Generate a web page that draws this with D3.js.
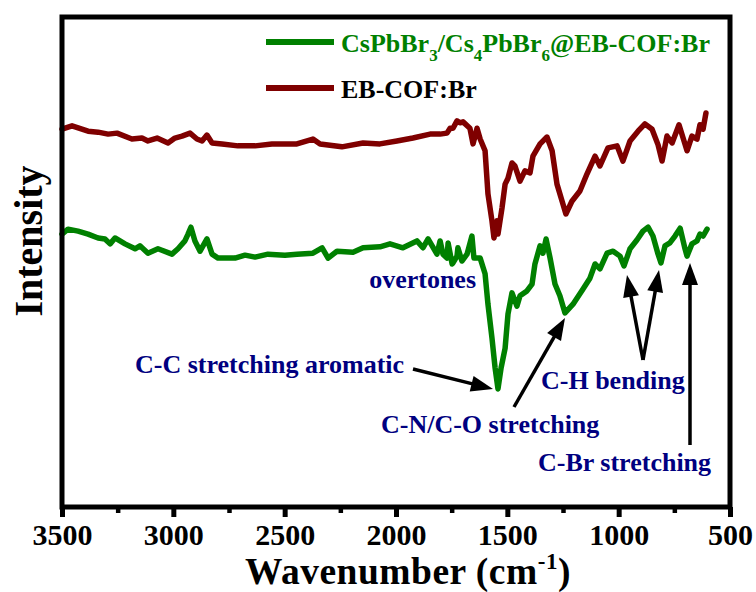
<!DOCTYPE html>
<html>
<head>
<meta charset="utf-8">
<script src="https://cdn.jsdelivr.net/npm/d3@7"></script>
<style>
  body { margin: 0; background: #fff; }
  svg text { font-family: "Liberation Serif", "Times New Roman", serif; font-weight: bold; }
</style>
</head>
<body>
<div id="chart"></div>
<script>
// FTIR spectra, wavenumber axis reversed (3500 -> 500 cm-1)
const W = 756, H = 592;
const BOX = { left: 62, top: 17, right: 730, bottom: 507 };

const GREEN = '#008000';
const MAROON = '#7f0000';
const NAVY = '#000080';

const X_TICKS = [3500, 3000, 2500, 2000, 1500, 1000, 500];
const X_MINOR = [3250, 2750, 2250, 1750, 1250, 750];

// EB-COF:Br (upper trace), [wavenumber, intensity a.u.]
const COF_WN = [3500, 3455, 3383, 3338, 3293, 3253, 3186, 3141, 3114, 3073, 3024, 2993, 2961, 2925,
  2894, 2871, 2849, 2826, 2781, 2710, 2633, 2557, 2499, 2445, 2373, 2341, 2243, 2148, 2072, 1996,
  1924, 1847, 1802, 1771, 1757, 1744, 1726, 1713, 1699, 1668, 1654, 1636, 1622, 1600, 1587, 1569,
  1560, 1546, 1542, 1524, 1510, 1497, 1479, 1466, 1443, 1421, 1398, 1385, 1353, 1322, 1299, 1277,
  1254, 1237, 1210, 1174, 1142, 1106, 1084, 1048, 1007, 981, 949, 913, 882, 850, 823, 805, 783,
  760, 729, 693, 671, 648, 635, 621, 608];
const COF_I = [77.1, 77.8, 76.7, 76.5, 76.1, 76.3, 75.1, 75.3, 74.7, 75.3, 74.3, 75.3, 75.7, 76.3,
  75.1, 74.7, 75.9, 74.3, 74.1, 73.7, 73.7, 74.1, 74.1, 74.1, 75.1, 74.1, 73.5, 74.3, 74.1, 74.7,
  75.3, 76.1, 76.1, 76.3, 77.3, 77.3, 78.8, 78.4, 78.6, 77.3, 74.1, 77.3, 75.1, 72.7, 63.9, 58.4,
  54.9, 58.4, 55.7, 61.0, 65.9, 67.1, 70.2, 69.6, 66.5, 68.6, 68.2, 71.6, 74.1, 75.5, 72.7, 65.9,
  62.4, 59.8, 62.4, 64.5, 68.0, 71.6, 69.6, 73.3, 73.7, 70.6, 74.7, 76.7, 78.2, 77.1, 73.9, 70.6,
  75.7, 74.3, 78.0, 72.7, 75.7, 75.1, 78.0, 77.1, 80.4];

// CsPbBr3/Cs4PbBr6@EB-COF:Br (lower trace)
const CS_WN = [3500, 3473, 3428, 3383, 3338, 3307, 3284, 3262, 3217, 3172, 3150, 3114, 3069, 3006,
  2979, 2948, 2934, 2921, 2903, 2880, 2849, 2826, 2799, 2723, 2678, 2633, 2575, 2499, 2445, 2373,
  2332, 2305, 2265, 2193, 2148, 2072, 2027, 1969, 1906, 1879, 1856, 1816, 1802, 1789, 1771, 1766,
  1748, 1744, 1726, 1722, 1704, 1681, 1659, 1650, 1622, 1600, 1587, 1569, 1555, 1542, 1528, 1510,
  1497, 1479, 1457, 1443, 1412, 1389, 1376, 1353, 1340, 1326, 1308, 1286, 1264, 1241, 1205, 1160,
  1129, 1106, 1084, 1052, 1025, 994, 976, 949, 918, 891, 868, 846, 823, 810, 792, 770, 747, 724,
  702, 693, 671, 648, 635, 621, 603];
const CS_I = [55.7, 56.7, 56.3, 55.7, 54.9, 54.7, 53.7, 54.9, 53.7, 52.7, 53.3, 51.8, 52.7, 51.6,
  52.7, 54.3, 55.7, 57.1, 54.3, 52.2, 54.7, 51.6, 50.8, 50.8, 51.4, 51.0, 51.6, 51.4, 51.6, 51.8,
  52.9, 50.8, 52.2, 52.0, 52.9, 53.1, 53.7, 52.9, 54.3, 52.9, 54.7, 51.6, 54.3, 51.6, 50.8, 53.9,
  49.6, 49.8, 51.2, 52.9, 50.2, 51.6, 55.3, 50.8, 50.8, 47.6, 41.4, 34.5, 28.4, 24.1, 28.4, 32.4,
  39.4, 43.7, 41.0, 43.1, 44.1, 45.5, 49.6, 53.3, 51.8, 54.7, 50.8, 45.5, 43.1, 39.6, 41.4, 44.5,
  46.7, 49.6, 48.6, 51.8, 52.2, 51.2, 49.2, 52.7, 54.5, 56.3, 57.1, 55.3, 51.6, 49.8, 53.3, 53.9,
  55.3, 56.9, 52.7, 51.2, 53.7, 54.3, 55.7, 55.3, 56.7];

const svg = d3.select('#chart').append('svg')
  .attr('width', W).attr('height', H);

const x = d3.scaleLinear().domain([3500, 500]).range([BOX.left, BOX.right]);
const y = d3.scaleLinear().domain([0, 100]).range([BOX.bottom, BOX.top]);

// axis ticks (outward, below frame)
const ax = svg.append('g').attr('transform', `translate(0,${BOX.bottom})`);
ax.call(d3.axisBottom(x).tickValues(X_MINOR).tickSize(6).tickFormat(''));
ax.call(g => g.selectAll('.tick line').attr('stroke-width', 4.5));
const axMajor = svg.append('g').attr('transform', `translate(0,${BOX.bottom})`)
  .call(d3.axisBottom(x).tickValues(X_TICKS).tickSize(10).tickPadding(8).tickFormat(d3.format('d')));
axMajor.selectAll('.tick line').attr('stroke-width', 5);
axMajor.selectAll('.tick text')
  .attr('font-size', 30).attr('fill', '#000').attr('dy', '0.66em');
svg.selectAll('.domain').remove();

// spectra
const line = d3.line().x(d => x(d[0])).y(d => y(d[1]));
const series = [
  { wn: COF_WN, val: COF_I, color: MAROON },
  { wn: CS_WN, val: CS_I, color: GREEN },
];
series.forEach(s => {
  svg.append('path')
    .datum(s.wn.map((w, i) => [w, s.val[i]]))
    .attr('d', line)
    .attr('fill', 'none')
    .attr('stroke', s.color)
    .attr('stroke-width', 5.5)
    .attr('stroke-linejoin', 'round')
    .attr('stroke-linecap', 'round');
});

// frame
svg.append('rect')
  .attr('x', BOX.left).attr('y', BOX.top)
  .attr('width', BOX.right - BOX.left).attr('height', BOX.bottom - BOX.top)
  .attr('fill', 'none').attr('stroke', '#000').attr('stroke-width', 5);

// legend
const legend = svg.append('g');
legend.append('line').attr('x1', 266).attr('x2', 334).attr('y1', 42).attr('y2', 42)
  .attr('stroke', GREEN).attr('stroke-width', 6);
legend.append('line').attr('x1', 266).attr('x2', 334).attr('y1', 88).attr('y2', 88)
  .attr('stroke', MAROON).attr('stroke-width', 6);

const lt = legend.append('text').attr('x', 341).attr('y', 52).attr('font-size', 26).attr('fill', GREEN);
[['CsPbBr', 0], ['3', 1], ['/Cs', 0], ['4', 1], ['PbBr', 0], ['6', 1], ['@EB-COF:Br', 0]]
  .forEach(([t, sub], i, arr) => {
    const prevSub = i > 0 && arr[i - 1][1];
    lt.append('tspan')
      .attr('font-size', sub ? 17 : 26)
      .attr('dy', sub ? 9 : (prevSub ? -9 : 0))
      .text(t);
  });
legend.append('text').attr('x', 341).attr('y', 98).attr('font-size', 26).attr('fill', '#000')
  .text('EB-COF:Br');

// annotations
const NOTES = [
  { text: 'overtones', x: 476, y: 288, anchor: 'end' },
  { text: 'C-C stretching aromatic', x: 135, y: 373, anchor: 'start' },
  { text: 'C-H bending', x: 541, y: 389, anchor: 'start' },
  { text: 'C-N/C-O stretching', x: 381, y: 433, anchor: 'start' },
  { text: 'C-Br stretching', x: 538, y: 471, anchor: 'start' },
];
NOTES.forEach(n => {
  svg.append('text').attr('x', n.x).attr('y', n.y)
    .attr('text-anchor', n.anchor).attr('font-size', 26).attr('fill', NAVY)
    .text(n.text);
});

// arrows [x1, y1, x2, y2] from label to band
const ARROWS = [
  [413, 369, 493, 389],
  [514, 407, 565, 318],
  [643, 360, 627, 275],
  [643, 360, 659, 270],
  [690, 445, 690, 263],
];
ARROWS.forEach(([x1, y1, x2, y2]) => {
  const dx = x2 - x1, dy = y2 - y1;
  const len = Math.sqrt(dx * dx + dy * dy);
  const ux = dx / len, uy = dy / len;
  const hl = 22, hw = 8;
  const bx = x2 - ux * hl, by = y2 - uy * hl;
  svg.append('line')
    .attr('x1', x1).attr('y1', y1).attr('x2', bx + ux * 2).attr('y2', by + uy * 2)
    .attr('stroke', '#000').attr('stroke-width', 3.5);
  svg.append('path')
    .attr('d', `M${x2},${y2} L${bx - uy * hw},${by + ux * hw} L${bx + uy * hw},${by - ux * hw} Z`)
    .attr('fill', '#000');
});

// axis titles
const xt = svg.append('text').attr('x', 245).attr('y', 583.5).attr('font-size', 37.5)
  .attr('letter-spacing', 0.5).attr('fill', '#000');
xt.append('tspan').text('Wavenumber (cm');
xt.append('tspan').attr('font-size', 23).attr('dy', -15).text('-1');
xt.append('tspan').attr('dy', 15).text(')');

svg.append('text')
  .attr('transform', 'translate(42,241) rotate(-90)')
  .attr('text-anchor', 'middle').attr('font-size', 40).attr('fill', '#000')
  .text('Intensity');
</script>
</body>
</html>
